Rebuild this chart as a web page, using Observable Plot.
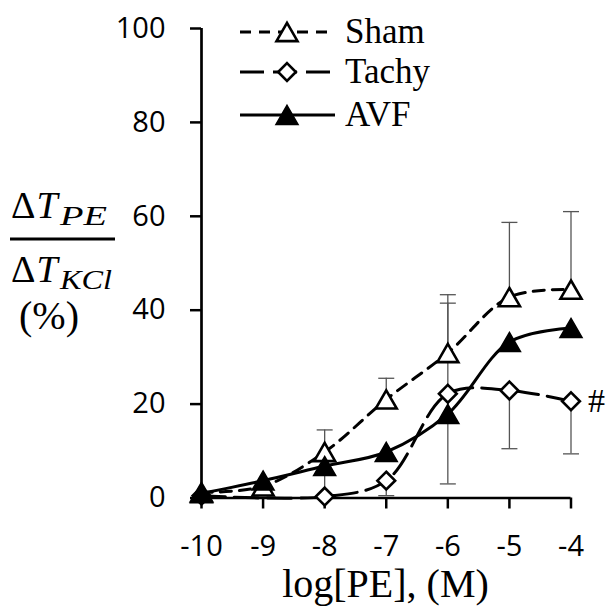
<!DOCTYPE html>
<html><head><meta charset="utf-8">
<script src="https://cdn.jsdelivr.net/npm/d3@7"></script>
<script src="https://cdn.jsdelivr.net/npm/@observablehq/plot@0.6"></script>
<style>html,body{margin:0;padding:0;background:#fff;overflow:hidden}</style>
</head><body><div id="chart"></div>
<script>
const xTicks = [-10, -9, -8, -7, -6, -5, -4];
const yTicks = [0, 20, 40, 60, 80, 100];

const seriesNames = ["Sham", "Tachy", "AVF"];

const shamX = [-10, -9, -8, -7, -6, -5, -4];
const shamY = [1.2, 2.5, 9.8, 21.0, 30.9, 42.8, 44.4];
const shamErrPlus = [0, 0, 4.7, 4.5, 12.4, 15.9, 16.6];

const tachyX = [-10, -8, -7, -6, -5, -4];
const tachyY = [0.5, 0.3, 3.7, 22.2, 22.9, 20.6];
const tachyErrMinus = [0, 0, 3.2, 19.2, 12.4, 11.2];

const avfX = [-10, -9, -8, -7, -6, -5, -4];
const avfY = [1.0, 3.7, 6.8, 9.8, 17.9, 33.2, 36.2];
const avfErrPlus = [0, 0, 0, 0, 23.6, 0, 0];
const avfErrMinus = [0, 0, 6.4, 0, 0, 0, 0];

const annotation = "#";

const sham = shamX.map((x, i) => ({x, y: shamY[i], ep: shamErrPlus[i]}));
const tachy = tachyX.map((x, i) => ({x, y: tachyY[i], em: tachyErrMinus[i]}));
const avf = avfX.map((x, i) => ({x, y: avfY[i], ep: avfErrPlus[i], em: avfErrMinus[i]}));

const bars = [
  ...sham.filter(d => d.ep > 0).map(d => ({x: d.x, y1: d.y, y2: d.y + d.ep})),
  ...tachy.filter(d => d.em > 0).map(d => ({x: d.x, y1: d.y, y2: d.y - d.em})),
  ...avf.filter(d => d.ep > 0).map(d => ({x: d.x, y1: d.y, y2: d.y + d.ep})),
  ...avf.filter(d => d.em > 0).map(d => ({x: d.x, y1: d.y, y2: d.y - d.em}))
];

const hbar = {draw(ctx, size) { const h = Math.sqrt(size / Math.PI); ctx.moveTo(-h, 0); ctx.lineTo(h, 0); }};

const W = 607, H = 609;
const tickFont = "'Open Sans', sans-serif";
const serif = "'Liberation Serif', 'Times New Roman', serif";

const triOpenR = 7.8, triFillR = 8.2, diaR = 8, triDy = 3.1;

const plot = Plot.plot({
  width: W, height: H,
  marginLeft: 201, marginRight: 36.5, marginTop: 28, marginBottom: 111.5,
  x: {domain: [-10, -4], label: null},
  y: {domain: [0, 100], label: null},
  style: {background: "white", color: "black"},
  marks: [
    Plot.axisY(yTicks, {tickSize: 11, tickPadding: 25, strokeWidth: 2.5, fontSize: 29, fontFamily: tickFont, tickFormat: d => String(d), label: null}),
    Plot.axisX(xTicks, {tickSize: 11, tickPadding: 26, strokeWidth: 2.5, fontSize: 29, fontFamily: tickFont, tickFormat: d => String(d), label: null}),
    Plot.ruleX([-10], {y1: 0, y2: 100, strokeWidth: 2.7}),
    Plot.ruleY([0], {x1: -10, x2: -4, strokeWidth: 2.7}),
    Plot.ruleX(bars, {x: "x", y1: "y1", y2: "y2", stroke: "#555", strokeWidth: 1.3}),
    Plot.dot(bars, {x: "x", y: "y2", symbol: hbar, r: 8, fill: "none", stroke: "#555", strokeWidth: 1.3}),
    Plot.line(sham, {x: "x", y: "y", curve: "catmull-rom", stroke: "black", strokeWidth: 3, strokeDasharray: "11,8"}),
    Plot.dot(sham, {x: "x", y: "y", symbol: "triangle", r: triOpenR, fill: "white", stroke: "black", strokeWidth: 2.6, dy: triDy}),
    Plot.line(tachy, {x: "x", y: "y", curve: "catmull-rom", stroke: "black", strokeWidth: 3, strokeDasharray: "24,9"}),
    Plot.dot(tachy, {x: "x", y: "y", symbol: "diamond2", r: diaR, fill: "white", stroke: "black", strokeWidth: 2.6}),
    Plot.line(avf, {x: "x", y: "y", curve: "catmull-rom", stroke: "black", strokeWidth: 3}),
    Plot.dot(avf, {x: "x", y: "y", symbol: "triangle", r: triFillR, fill: "black", stroke: "black", strokeWidth: 1.5, dy: triDy}),
    Plot.text(tachy.slice(-1), {x: "x", y: "y", text: () => annotation, dx: 17, textAnchor: "start", fontSize: 34, fontFamily: serif, fill: "black"})
  ]
});

document.getElementById("chart").appendChild(plot);
const svg = d3.select(plot);

// Legend
const legendRows = [
  {name: seriesNames[0], y: 32, dash: "11,8", sym: d3.symbolTriangle, r: triOpenR, fill: "white", sw: 2.6, dy: triDy},
  {name: seriesNames[1], y: 72, dash: "24,9", sym: d3.symbolDiamond2, r: diaR, fill: "white", sw: 2.6, dy: 0},
  {name: seriesNames[2], y: 115, dash: null, sym: d3.symbolTriangle, r: triFillR, fill: "black", sw: 1.5, dy: triDy}
];
const lg = svg.append("g").attr("text-anchor", "start");
for (const row of legendRows) {
  const ln = lg.append("line").attr("x1", 240).attr("x2", 335).attr("y1", row.y).attr("y2", row.y)
    .attr("stroke", "black").attr("stroke-width", 3);
  if (row.dash) ln.attr("stroke-dasharray", row.dash);
  lg.append("path").attr("d", d3.symbol(row.sym, Math.PI * row.r * row.r)())
    .attr("transform", `translate(287,${row.y + row.dy})`)
    .attr("fill", row.fill).attr("stroke", "black").attr("stroke-width", row.sw);
  lg.append("text").attr("x", 345).attr("y", row.y + 11).attr("text-anchor", "start").text(row.name)
    .style("font-family", serif).style("font-size", "35px").attr("fill", "black");
}

// Y label (fraction)
const yl = svg.append("g").attr("fill", "black").attr("text-anchor", "start").style("font-family", serif);
function frac(y, sub, subLen) {
  yl.append("text").attr("x", 11).attr("y", y).attr("text-anchor", "start").style("font-size", "38px").text("Δ");
  yl.append("text").attr("x", 36.5).attr("y", y).attr("text-anchor", "start").style("font-size", "38px").style("font-style", "italic").text("T");
  yl.append("text").attr("x", 60).attr("y", y + 7).attr("text-anchor", "start").style("font-size", "28px").style("font-style", "italic")
    .attr("textLength", subLen).attr("lengthAdjust", "spacingAndGlyphs").text(sub);
}
frac(218, "PE", 47);
yl.append("line").attr("x1", 10).attr("x2", 115).attr("y1", 239).attr("y2", 239).attr("stroke", "black").attr("stroke-width", 2.8);
frac(282, "KCl", 52);
yl.append("text").attr("x", 49).attr("y", 329).attr("text-anchor", "middle").style("font-size", "40px").text("(%)");

// X label
svg.append("text").attr("x", 385.5).attr("y", 597).attr("text-anchor", "middle")
  .style("font-family", serif).style("font-size", "40px").attr("fill", "black").text("log[PE], (M)");
</script>
</body></html>
